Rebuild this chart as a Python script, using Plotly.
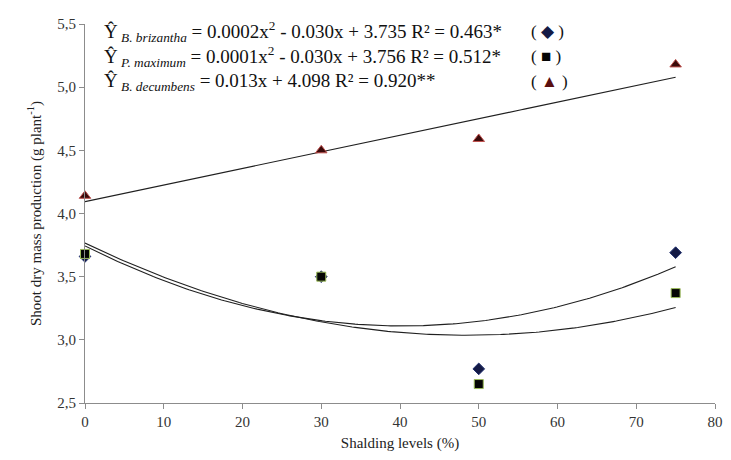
import numpy as np
import plotly.graph_objects as go

shading = [0, 30, 50, 75]
b_brizantha = [3.66, 3.50, 2.77, 3.69]
p_maximum = [3.68, 3.50, 2.65, 3.37]
b_decumbens = [4.14, 4.50, 4.59, 5.18]

x_ticks = [0, 10, 20, 30, 40, 50, 60, 70, 80]
y_ticks = [2.5, 3.0, 3.5, 4.0, 4.5, 5.0, 5.5]
y_tick_labels = ["2,5", "3,0", "3,5", "4,0", "4,5", "5,0", "5,5"]

FONT = "Liberation Serif, serif"

xs = np.linspace(min(shading), max(shading), 200)
fit_briz = np.polyval(np.polyfit(shading, b_brizantha, 2), xs)
fit_maxi = np.polyval(np.polyfit(shading, p_maximum, 2), xs)
fit_decu = np.polyval(np.polyfit(shading, b_decumbens, 1), xs)

fig = go.Figure()
for fy in (fit_briz, fit_maxi, fit_decu):
    fig.add_trace(go.Scatter(x=xs, y=fy, mode="lines",
                             line=dict(color="#202020", width=1.1),
                             hoverinfo="skip", showlegend=False))

fig.add_trace(go.Scatter(x=shading, y=b_decumbens, mode="markers", cliponaxis=False,
                         marker=dict(symbol="triangle-up", size=10, color="#3a0a0a",
                                     line=dict(color="#c0504d", width=1)),
                         showlegend=False))
fig.add_trace(go.Scatter(x=shading, y=b_brizantha, mode="markers", cliponaxis=False,
                         marker=dict(symbol="diamond", size=9, color="#141a45",
                                     line=dict(color="#1f2f6f", width=1)),
                         showlegend=False))
fig.add_trace(go.Scatter(x=shading, y=p_maximum, mode="markers", cliponaxis=False,
                         marker=dict(symbol="square", size=9, color="#050505",
                                     line=dict(color="#9bbb59", width=1)),
                         showlegend=False))

eqs = [
    "Ŷ<sub><i> B. brizantha</i></sub> = 0.0002x<sup>2</sup> - 0.030x + 3.735 R² = 0.463*",
    "Ŷ<sub><i> P. maximum</i></sub> = 0.0001x<sup>2</sup> - 0.030x + 3.756 R² = 0.512*",
    "Ŷ<sub><i> B. decumbens</i></sub> = 0.013x + 4.098 R² = 0.920**",
]
keys = [
    "( <span style='color:#141a45'>◆</span> )",
    "( <span style='color:#050505'>■</span> )",
    "( <span style='color:#5a0f0f'>▲</span> )",
]
ys = [0.98, 0.913, 0.848]
for t, k, yy in zip(eqs, keys, ys):
    fig.add_annotation(x=0.027, y=yy, xref="paper", yref="paper", text=t, showarrow=False,
                       xanchor="left", yanchor="middle",
                       font=dict(family=FONT, size=19, color="#111111"))
    fig.add_annotation(x=0.705, y=yy, xref="paper", yref="paper", text=k, showarrow=False,
                       xanchor="left", yanchor="middle",
                       font=dict(family=FONT, size=17, color="#111111"))

axis_common = dict(showgrid=False, zeroline=False, showline=True, linecolor="#8c8c8c",
                   linewidth=1, ticks="outside", ticklen=5, tickcolor="#8c8c8c",
                   ticklabeloverflow="allow",
                   tickfont=dict(family=FONT, size=15, color="#333333"))

fig.update_layout(
    width=723, height=452,
    font=dict(family=FONT, size=15, color="#222222"),
    margin=dict(l=77, r=9, t=8, b=57),
    paper_bgcolor="white", plot_bgcolor="white",
    xaxis=dict(range=[0, 80], tickvals=x_ticks, **axis_common,
               title=dict(text="Shalding levels (%)", font=dict(family=FONT, size=15, color="#222222"),
                          standoff=8)),
    yaxis=dict(range=[2.5, 5.5], tickvals=y_ticks, ticktext=y_tick_labels, **axis_common,
               title=dict(text="Shoot dry mass production (g plant<sup>-1</sup>)",
                          font=dict(family=FONT, size=15, color="#222222"), standoff=12)),
)

fig.write_html("out.html")
